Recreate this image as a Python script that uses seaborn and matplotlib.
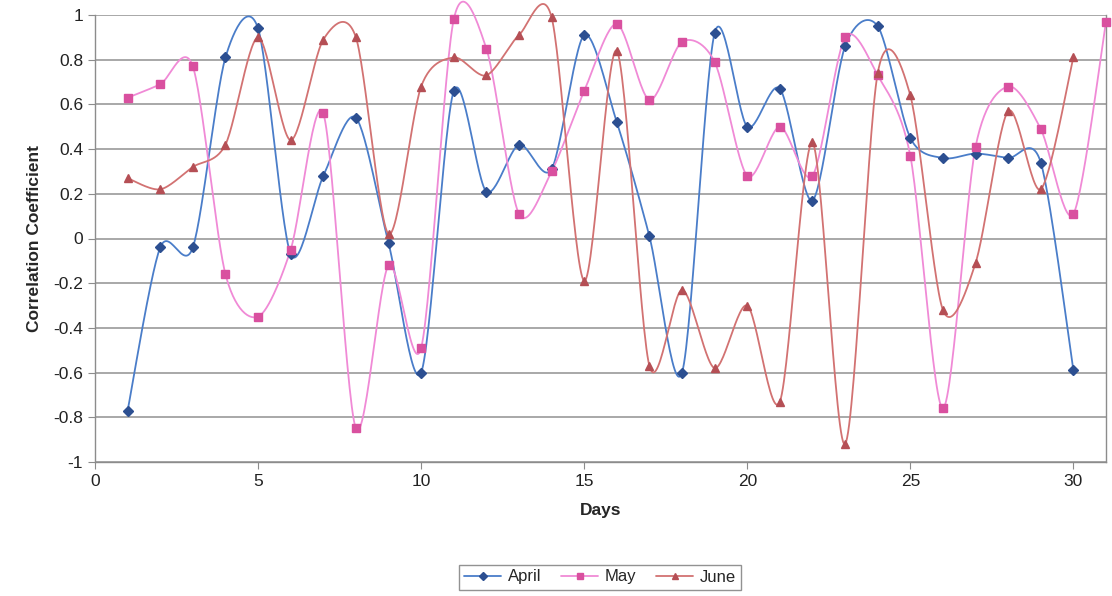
import numpy as np
import pandas as pd
import matplotlib
matplotlib.use("Agg")
import matplotlib.pyplot as plt
import seaborn as sns

days_april = list(range(1, 31))
april = [-0.77, -0.04, -0.04, 0.81, 0.94, -0.07, 0.28, 0.54, -0.02, -0.60,
         0.66, 0.21, 0.42, 0.31, 0.91, 0.52, 0.01, -0.60, 0.92, 0.50,
         0.67, 0.17, 0.86, 0.95, 0.45, 0.36, 0.38, 0.36, 0.34, -0.59]

days_may = list(range(1, 32))
may = [0.63, 0.69, 0.77, -0.16, -0.35, -0.05, 0.56, -0.85, -0.12, -0.49,
       0.98, 0.85, 0.11, 0.30, 0.66, 0.96, 0.62, 0.88, 0.79, 0.28,
       0.50, 0.28, 0.90, 0.73, 0.37, -0.76, 0.41, 0.68, 0.49, 0.11, 0.97]

days_june = list(range(1, 31))
june = [0.27, 0.22, 0.32, 0.42, 0.90, 0.44, 0.89, 0.90, 0.02, 0.68,
        0.81, 0.73, 0.91, 0.99, -0.19, 0.84, -0.57, -0.23, -0.58, -0.30,
        -0.73, 0.43, -0.92, 0.74, 0.64, -0.32, -0.11, 0.57, 0.22, 0.81]

series = [("April", days_april, april, "#4a7dc9", "#2c4f91", "D", 5),
          ("May", days_may, may, "#f08ad6", "#d9509f", "s", 6),
          ("June", days_june, june, "#d27272", "#b54f55", "^", 6)]


def smooth(x, y, n=30, k=7.0):
    # excel style smoothing: bezier segments with catmull-rom like control points
    x = np.asarray(x, float)
    y = np.asarray(y, float)
    px = np.concatenate([[x[0]], x, [x[-1]]])
    py = np.concatenate([[y[0]], y, [y[-1]]])
    xs, ys = [], []
    t = np.linspace(0, 1, n)
    for i in range(1, len(px) - 2):
        p0 = np.array([px[i], py[i]])
        p3 = np.array([px[i + 1], py[i + 1]])
        p1 = p0 + (np.array([px[i + 1], py[i + 1]]) - np.array([px[i - 1], py[i - 1]])) / k
        p2 = p3 - (np.array([px[i + 2], py[i + 2]]) - np.array([px[i], py[i]])) / k
        b = ((1 - t) ** 3)[:, None] * p0 + (3 * (1 - t) ** 2 * t)[:, None] * p1 \
            + (3 * (1 - t) * t ** 2)[:, None] * p2 + (t ** 3)[:, None] * p3
        xs.extend(b[:, 0])
        ys.extend(b[:, 1])
    return np.array(xs), np.array(ys)


sns.set_style("white")
plt.rcParams['font.family'] = ['Liberation Sans', 'DejaVu Sans']

fig = plt.figure(figsize=(11.12, 5.96), dpi=100)
ax = fig.add_axes([95 / 1112, 1 - 462 / 596, (1106 - 95) / 1112, (462 - 15) / 596])

handles = []
for name, dx, dy, lc, mc, mk, ms in series:
    sx, sy = smooth(dx, dy)
    sns.lineplot(x=sx, y=sy, ax=ax, color=lc, lw=1.3, sort=False, estimator=None,
                 legend=False, clip_on=False)
    ax.plot(dx, dy, linestyle="none", marker=mk, color=mc, markersize=ms, zorder=3,
            clip_on=False)
    h, = ax.plot([], [], color=lc, lw=1.3, marker=mk, markerfacecolor=mc,
                 markeredgecolor=mc, markersize=ms - 1, label=name)
    handles.append(h)

if ax.get_legend() is not None:
    ax.get_legend().remove()

ax.set_xlim(0, 31)
ax.set_ylim(-1, 1)
ax.set_xticks(range(0, 31, 5))
ax.set_yticks(np.round(np.arange(-1, 1.01, 0.2), 1))
ax.set_yticklabels(["-1", "-0.8", "-0.6", "-0.4", "-0.2", "0", "0.2", "0.4", "0.6", "0.8", "1"])
ax.grid(axis="y", color="#9a9a9a", lw=1.2)
ax.set_axisbelow(True)
ax.spines["top"].set_visible(False)
for s in ["left", "bottom", "right"]:
    ax.spines[s].set_color("#8c8c8c")
    ax.spines[s].set_linewidth(1.0)
ax.tick_params(axis="both", which="major", direction="out", length=5, color="#8c8c8c",
               labelsize=12.5, labelcolor="#222222", left=True, bottom=True)
ax.set_xlabel("Days", fontsize=12.5, fontweight="bold", labelpad=10)
ax.set_ylabel("Correlation Coefficient", fontsize=12.5, fontweight="bold", labelpad=8)

leg = fig.legend(handles=handles, loc="center", bbox_to_anchor=(600 / 1112, 1 - 577 / 596),
                 ncol=3, frameon=True, fontsize=12, fancybox=False, handlelength=2.2,
                 columnspacing=1.2, handletextpad=0.4, borderpad=0.3)
leg.get_frame().set_edgecolor("#777777")
leg.get_frame().set_linewidth(1.0)

fig.savefig("out.png", dpi=100)
